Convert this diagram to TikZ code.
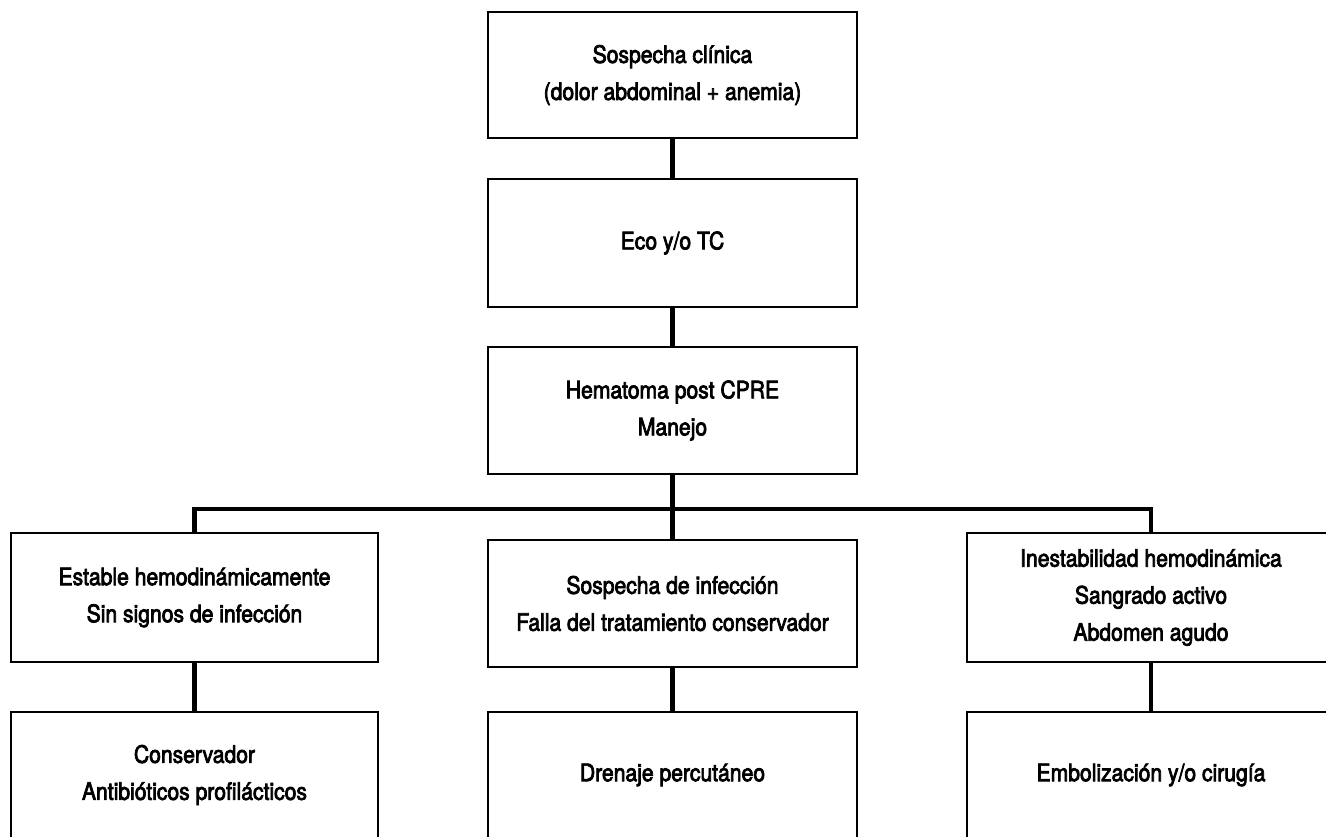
\documentclass[tikz,border=0pt]{standalone}
\usepackage{fontspec}
\setmainfont{TeX Gyre Heros}[FakeStretch=0.88, UprightFeatures={FakeBold=3}]
\begin{document}
\begin{tikzpicture}[x=1pt,y=-1pt,
  box/.style={draw=black, line width=2pt, fill=white, rectangle, inner sep=0pt,
    align=center, font=\fontsize{24}{37}\selectfont},
  conn/.style={draw=black, line width=4.5pt, line join=miter}]
\useasboundingbox (0,0) rectangle (1326,836);
% nodes
\node[box, minimum width=369pt, minimum height=126pt] (top) at (672.5,75) {Sospecha clínica\\(dolor abdominal + anemia)};
\node[box, minimum width=369pt, minimum height=128pt] (eco) at (672.5,243) {Eco y/o TC};
\node[box, minimum width=369pt, minimum height=127pt] (hem) at (672.5,410.5) {Hematoma post CPRE\\Manejo};
\coordinate (bus) at (672.5,509);
\node[box, minimum width=367pt, minimum height=129pt] (l1) at (194.5,597.5) {Estable hemodinámicamente\\Sin signos de infección};
\node[box, minimum width=369pt, minimum height=127pt] (m1) at (672.5,603.5) {Sospecha de infección\\Falla del tratamiento conservador};
\node[box, minimum width=368pt, minimum height=129pt] (r1) at (1151,597.5) {Inestabilidad hemodinámica\\Sangrado activo\\Abdomen agudo};
\node[box, minimum width=367pt, minimum height=126pt] (l2) at (194.5,775) {Conservador\\Antibióticos profilácticos};
\node[box, minimum width=369pt, minimum height=126pt] (m2) at (672.5,775) {Drenaje percutáneo};
\node[box, minimum width=368pt, minimum height=126pt] (r2) at (1151,775) {Embolización y/o cirugía};
% connectors
\draw[conn] (top.south) -- (eco.north);
\draw[conn] (eco.south) -- (hem.north);
\draw[conn] (hem.south) -- (m1.north);
\draw[conn] (l1.north) |- (bus) -| (r1.north);
\draw[conn] (l1.south) -- (l2.north);
\draw[conn] (m1.south) -- (m2.north);
\draw[conn] (r1.south) -- (r2.north);
\end{tikzpicture}
\end{document}
